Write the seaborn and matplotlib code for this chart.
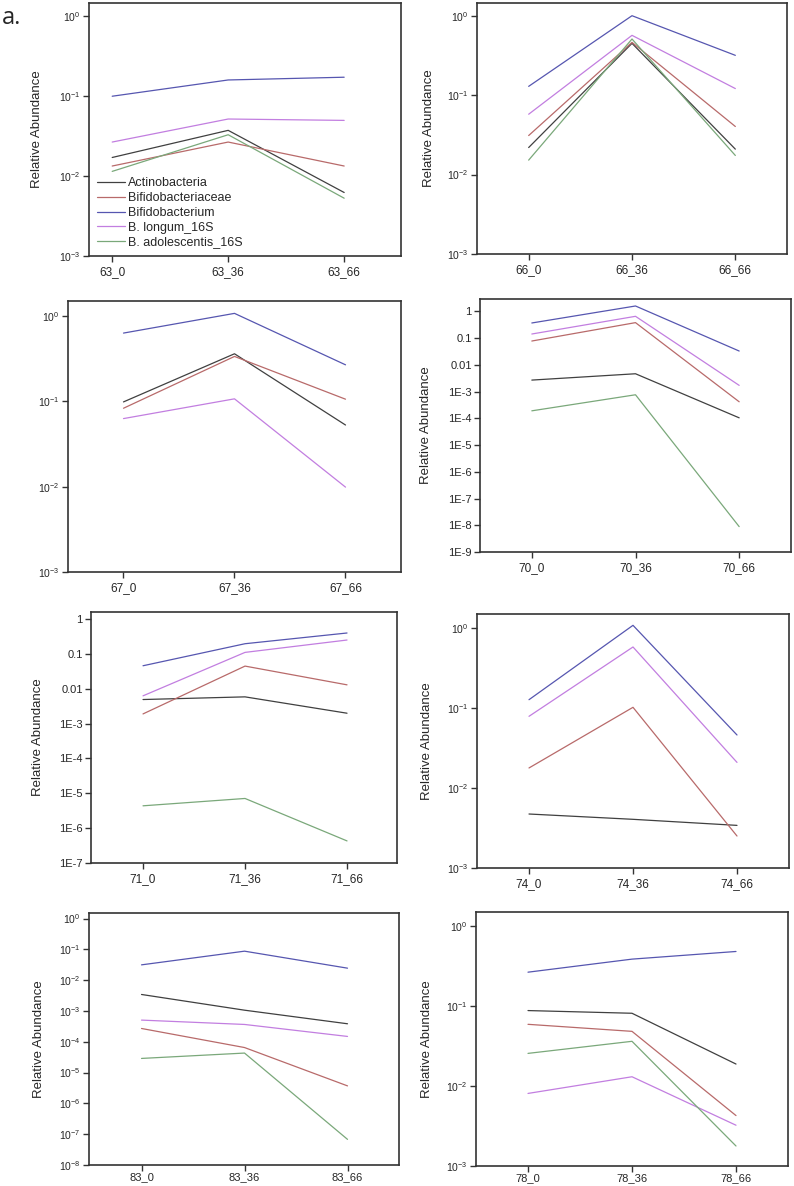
import numpy as np
import pandas as pd
import matplotlib
matplotlib.use("Agg")
import matplotlib.pyplot as plt
import seaborn as sns

# ---------------- data ----------------
taxa = ["Actinobacteria", "Bifidobacteriaceae", "Bifidobacterium",
        "B. longum_16S", "B. adolescentis_16S"]
subjects = ["63", "66", "67", "70", "71", "74", "83", "78"]
timepoints = ["0", "36", "66"]

nan = np.nan
# one row per subject (panel order), three time points each
actinobacteria = [
    [0.0170, 0.0371, 0.00621],
    [0.0219, 0.449, 0.0209],
    [0.0985, 0.361, 0.0528],
    [0.00268, 0.00462, 0.000104],
    [0.00489, 0.00583, 0.00198],
    [0.00473, 0.00406, 0.00341],
    [0.00343, 0.00106, 0.000384],
    [0.0883, 0.0817, 0.0189],
]
bifidobacteriaceae = [
    [0.0133, 0.0265, 0.0133],
    [0.0310, 0.462, 0.0403],
    [0.0830, 0.336, 0.106],
    [0.0774, 0.377, 0.000414],
    [0.00189, 0.0445, 0.0129],
    [0.0178, 0.102, 0.00251],
    [0.00027, 0.000065, 0.0000037],
    [0.0594, 0.0485, 0.00428],
]
bifidobacterium = [
    [0.099, 0.158, 0.171],
    [0.129, 1.0, 0.317],
    [0.631, 1.074, 0.268],
    [0.366, 1.58, 0.0327],
    [0.0455, 0.195, 0.396],
    [0.127, 1.08, 0.046],
    [0.0314, 0.0873, 0.0245],
    [0.267, 0.389, 0.485],
]
b_longum = [
    [0.0265, 0.0514, 0.0494],
    [0.0575, 0.566, 0.121],
    [0.0628, 0.107, 0.00988],
    [0.1416, 0.65, 0.0017],
    [0.00624, 0.110, 0.249],
    [0.0787, 0.579, 0.0209],
    [0.000505, 0.000365, 0.000149],
    [0.0081, 0.0131, 0.00324],
]
b_adolescentis = [
    [0.0114, 0.0327, 0.00527],
    [0.0152, 0.509, 0.0174],
    [nan, nan, nan],
    [0.000190, 0.000757, 8.9e-9],
    [4.37e-6, 7.1e-6, 4.3e-7],
    [nan, nan, nan],
    [2.88e-5, 4.3e-5, 6.8e-8],
    [0.0257, 0.0364, 0.00178],
]

# axis ranges (log10 of bottom / top) per panel
y_bottom_exp = [-3, -3, -3, -9, -7, -3, -8, -3]
y_top_exp = [0.16, 0.16, 0.176, 0.46, 0.2, 0.175, 0.18, 0.18]
plain_labels = [False, False, False, True, True, False, False, False]
show_ylabel = [True, True, False, True, True, True, True, True]

# ---------------- style ----------------
sns.set_style("white")
plt.rcParams["font.family"] = ["Liberation Sans", "DejaVu Sans"]

colors = {
    "Actinobacteria": "#404040",
    "Bifidobacteriaceae": "#b86a6a",
    "Bifidobacterium": "#5656b0",
    "B. longum_16S": "#c27ee0",
    "B. adolescentis_16S": "#7aa87a",
}

W, H = 794, 1186
fig = plt.figure(figsize=(W / 100, H / 100), dpi=100)

# axes boxes in pixels: left, top, right, bottom
boxes = [
    (89, 3, 401, 256),
    (477, 3, 787, 254),
    (68, 301, 401, 572),
    (480, 299, 791, 552),
    (91, 612, 397, 863),
    (477, 614, 789, 868),
    (89, 913, 399, 1165),
    (476, 912, 788, 1166),
]
xlims = [(-0.2, 2.49), (-0.5, 2.5), (-0.5, 2.5), (-0.5, 2.5),
         (-0.51, 2.49), (-0.5, 2.5), (-0.51, 2.5), (-0.5, 2.5)]
ylabel_px = [43, 435, None, 432, 44, 433, 45, 433]

series = [actinobacteria, bifidobacteriaceae, bifidobacterium, b_longum, b_adolescentis]


def sup(n):
    return r"10$^{\mathregular{%d}}$" % n


for i, subj in enumerate(subjects):
    l, t, r, b = boxes[i]
    ax = fig.add_axes([l / W, 1 - b / H, (r - l) / W, (b - t) / H])
    rows = []
    for taxon, arr in zip(taxa, series):
        for j, tp in enumerate(timepoints):
            v = arr[i][j]
            if not np.isnan(v):
                rows.append({"sample": f"{subj}_{tp}", "pos": j,
                             "value": v, "taxon": taxon})
    df = pd.DataFrame(rows)
    sns.lineplot(data=df, x="pos", y="value", hue="taxon", hue_order=taxa,
                 palette=colors, ax=ax, linewidth=0.9, estimator=None,
                 sort=False, legend=(i == 0))
    ax.set_yscale("log")
    ax.set_ylim(10 ** y_bottom_exp[i], 10 ** y_top_exp[i])
    ax.set_xlim(*xlims[i])
    ax.set_xticks(range(3))
    bottom_row = i >= 6
    ax.set_xticklabels([f"{subj}_{tp}" for tp in timepoints],
                       fontsize=8 if bottom_row else 8.5)
    exps = list(range(y_bottom_exp[i], 1))
    ax.set_yticks([10.0 ** e for e in exps])
    ax.yaxis.set_minor_locator(matplotlib.ticker.NullLocator())
    if plain_labels[i]:
        labs = []
        for e in exps:
            if e == 0:
                labs.append("1")
            elif e == -1:
                labs.append("0.1")
            elif e == -2:
                labs.append("0.01")
            else:
                labs.append(f"1E{e}")
        ax.set_yticklabels(labs, fontsize=8)
    else:
        ax.set_yticklabels([sup(e) for e in exps], fontsize=7.5)
    ax.tick_params(axis="both", direction="out", length=4, width=1,
                   color="#333333", left=True, bottom=True, pad=2)
    ax.tick_params(axis="x", pad=1 if bottom_row else 3)
    for s in ax.spines.values():
        s.set_color("#333333")
        s.set_linewidth(1.2)
    ax.set_xlabel("")
    if show_ylabel[i]:
        ax.set_ylabel("Relative Abundance", fontsize=9.5)
        ax.yaxis.set_label_coords((ylabel_px[i] - l) / (r - l), 0.5)
    else:
        ax.set_ylabel("")
    if i == 0:
        leg = ax.legend(loc="lower left", bbox_to_anchor=(0.0, 0.0),
                        frameon=False, fontsize=9, handlelength=2.3,
                        handletextpad=0.2, labelspacing=0.22,
                        borderaxespad=0.2)
        for line in leg.get_lines():
            line.set_linewidth(0.9)

fig.text(0.002, 1 - 18 / H, "a.", fontsize=17, va="center", ha="left",
         family=["Open Sans", "DejaVu Sans"])

fig.savefig("out.png", dpi=100)
